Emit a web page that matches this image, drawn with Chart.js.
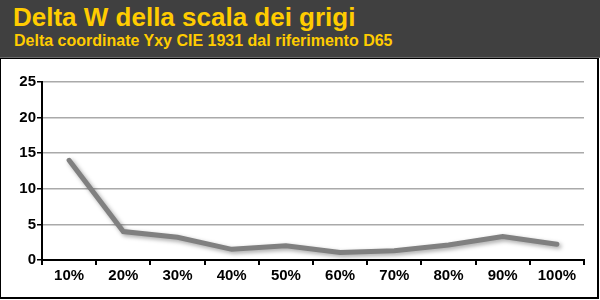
<!DOCTYPE html>
<html>
<head>
<meta charset="utf-8">
<script src="https://cdn.jsdelivr.net/npm/chart.js@4"></script>
<style>
  body { margin: 0; width: 600px; height: 300px; background: #fff; position: relative; overflow: hidden; font-family: "Liberation Sans", Arial, sans-serif; }
  #head { position: absolute; left: 0; top: 0; width: 600px; height: 57px; background: #404040; border-bottom: 1px solid #6a6a6a; }
  #title { position: absolute; left: 13px; top: 2px; color: #ffcc00; font-weight: bold; font-size: 26px; white-space: nowrap; }
  #subtitle { position: absolute; left: 14px; top: 32px; color: #ffcc00; font-weight: bold; font-size: 16px; white-space: nowrap; }
  #panel { position: absolute; left: 0; top: 58px; width: 596px; height: 238px; border: 1px solid #000; border-right-width: 2px; border-bottom-width: 2px; }
  #wrap { position: absolute; left: 0; top: 58px; width: 598px; height: 240px; }
</style>
</head>
<body>
<div id="head">
  <div id="title">Delta W della scala dei grigi</div>
  <div id="subtitle">Delta coordinate Yxy CIE 1931 dal riferimento D65</div>
</div>
<div id="panel"></div>
<div id="wrap"><canvas id="myChart"></canvas></div>
<script>
'use strict';

// data
let greyLevels = ['10%', '20%', '30%', '40%', '50%', '60%', '70%', '80%', '90%', '100%'];
let deltaW = [14.0, 4.0, 3.2, 1.5, 2.0, 1.05, 1.3, 2.1, 3.3, 2.2];
let yTicks = [0, 5, 10, 15, 20, 25];

// soft shadow under the line
let lineShadow = {
    id: 'lineShadow',
    beforeDatasetsDraw(chart) {
        let c = chart.ctx;
        c.save();
        c.shadowColor = 'rgba(0,0,0,0.35)';
        c.shadowBlur = 4;
        c.shadowOffsetX = 2;
        c.shadowOffsetY = 2;
    },
    afterDatasetsDraw(chart) {
        chart.ctx.restore();
    }
};

let tickFont = { family: '"Liberation Sans", Arial, sans-serif', size: 15, weight: 'bold' };

let ctx = document.getElementById('myChart').getContext('2d');
let myChart = new Chart(ctx, {
    type: 'line',
    data: {
        labels: greyLevels,
        datasets: [{
            data: deltaW,
            borderColor: '#808080',
            borderWidth: 5,
            borderCapStyle: 'round',
            borderJoinStyle: 'miter',
            pointRadius: 0,
            tension: 0
        }]
    },
    plugins: [lineShadow],
    options: {
        responsive: true,
        maintainAspectRatio: false,
        animation: false,
        layout: { padding: { top: 24, right: 14, left: 0, bottom: 0 } },
        plugins: {
            legend: { display: false },
            tooltip: { enabled: false }
        },
        scales: {
            x: {
                offset: true,
                grid: {
                    offset: true,
                    drawOnChartArea: false,
                    drawTicks: true,
                    tickLength: 5,
                    tickColor: '#000',
                    lineWidth: 2
                },
                border: { color: '#000', width: 2 },
                ticks: { color: '#000', font: tickFont, padding: 2, maxRotation: 0 },
                afterFit(scale) { scale.height = 38; }
            },
            y: {
                min: 0,
                max: 25,
                afterBuildTicks(scale) { scale.ticks = yTicks.map(v => ({ value: v })); },
                grid: {
                    color: '#aaaaaa',
                    lineWidth: 1.5,
                    tickColor: '#000',
                    tickLength: 5,
                    drawTicks: true
                },
                border: { color: '#000', width: 2 },
                ticks: { color: '#000', font: tickFont, padding: 1 },
                afterFit(scale) { scale.width = 42; }
            }
        }
    }
});
</script>
</body>
</html>
